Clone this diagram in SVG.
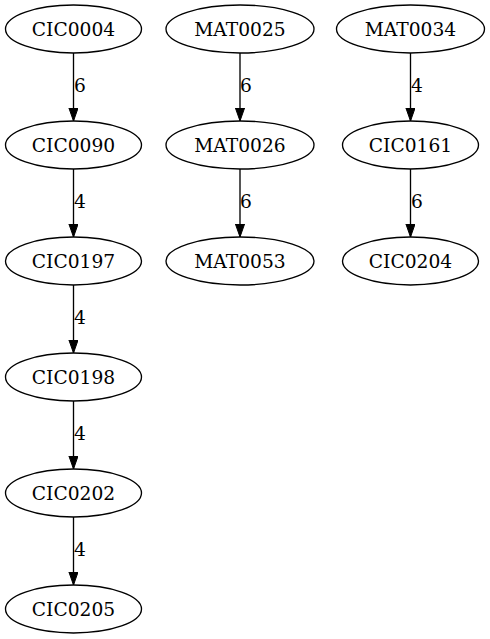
<svg xmlns="http://www.w3.org/2000/svg" width="490" height="639" viewBox="0 0 490 639">
<defs>
<style>
.n ellipse{fill:none;stroke:#000;stroke-width:1.33}
.n text,.lbl{font-family:"DejaVu Serif",serif;font-size:18.67px;text-anchor:middle;fill:#000}
.e{stroke:#000;stroke-width:1.33;fill:none}
</style>
<marker id="ah" markerWidth="14" markerHeight="10" refX="13.3" refY="4.7" orient="auto" markerUnits="userSpaceOnUse">
<path d="M0,0 L13.3,4.7 L0,9.4 Z" fill="#000" stroke="#000" stroke-width="1"/>
</marker>
</defs>
<rect width="490" height="639" fill="#fff"/>
<g id="edges">
<line class="e" x1="73.5" y1="53" x2="73.5" y2="121" marker-end="url(#ah)"/><text class="lbl" x="80" y="92">6</text>
<line class="e" x1="73.5" y1="169" x2="73.5" y2="237" marker-end="url(#ah)"/><text class="lbl" x="80" y="208">4</text>
<line class="e" x1="73.5" y1="285" x2="73.5" y2="353" marker-end="url(#ah)"/><text class="lbl" x="80" y="324">4</text>
<line class="e" x1="73.5" y1="401" x2="73.5" y2="469" marker-end="url(#ah)"/><text class="lbl" x="80" y="440">4</text>
<line class="e" x1="73.5" y1="517" x2="73.5" y2="585" marker-end="url(#ah)"/><text class="lbl" x="80" y="556">4</text>
<line class="e" x1="240" y1="53" x2="240" y2="121" marker-end="url(#ah)"/><text class="lbl" x="246" y="92">6</text>
<line class="e" x1="240" y1="169" x2="240" y2="237" marker-end="url(#ah)"/><text class="lbl" x="246" y="208">6</text>
<line class="e" x1="410.5" y1="53" x2="410.5" y2="121" marker-end="url(#ah)"/><text class="lbl" x="417" y="92">4</text>
<line class="e" x1="410.5" y1="169" x2="410.5" y2="237" marker-end="url(#ah)"/><text class="lbl" x="417" y="208">6</text>
</g>
<g id="CIC0004" class="n"><ellipse cx="73.5" cy="29" rx="68" ry="24"/><text x="73.5" y="35.5">CIC0004</text></g>
<g id="CIC0090" class="n"><ellipse cx="73.5" cy="145" rx="68" ry="24"/><text x="73.5" y="151.5">CIC0090</text></g>
<g id="CIC0197" class="n"><ellipse cx="73.5" cy="261" rx="68" ry="24"/><text x="73.5" y="267.5">CIC0197</text></g>
<g id="CIC0198" class="n"><ellipse cx="73.5" cy="377" rx="68" ry="24"/><text x="73.5" y="383.5">CIC0198</text></g>
<g id="CIC0202" class="n"><ellipse cx="73.5" cy="493" rx="68" ry="24"/><text x="73.5" y="499.5">CIC0202</text></g>
<g id="CIC0205" class="n"><ellipse cx="73.5" cy="609" rx="68" ry="24"/><text x="73.5" y="615.5">CIC0205</text></g>
<g id="MAT0025" class="n"><ellipse cx="240" cy="29" rx="74" ry="24"/><text x="240" y="35.5">MAT0025</text></g>
<g id="MAT0026" class="n"><ellipse cx="240" cy="145" rx="74" ry="24"/><text x="240" y="151.5">MAT0026</text></g>
<g id="MAT0053" class="n"><ellipse cx="240" cy="261" rx="74" ry="24"/><text x="240" y="267.5">MAT0053</text></g>
<g id="MAT0034" class="n"><ellipse cx="410.5" cy="29" rx="74" ry="24"/><text x="410.5" y="35.5">MAT0034</text></g>
<g id="CIC0161" class="n"><ellipse cx="410.5" cy="145" rx="68" ry="24"/><text x="410.5" y="151.5">CIC0161</text></g>
<g id="CIC0204" class="n"><ellipse cx="410.5" cy="261" rx="68" ry="24"/><text x="410.5" y="267.5">CIC0204</text></g>
</svg>
